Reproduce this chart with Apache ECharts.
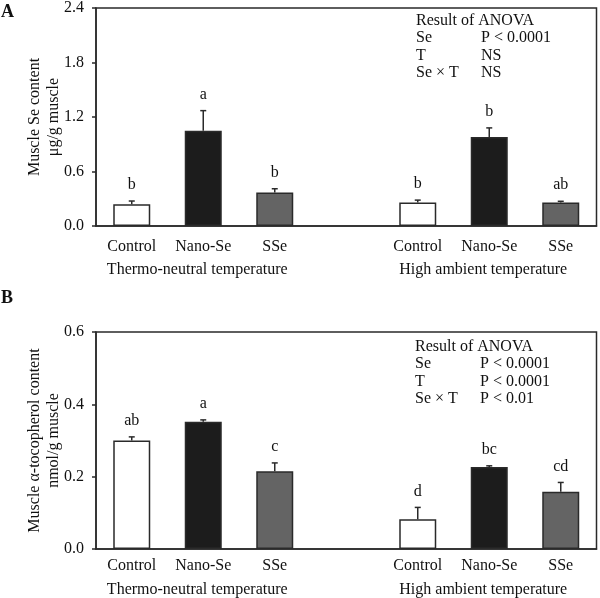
<!DOCTYPE html>
<html>
<head>
<meta charset="utf-8">
<script src="https://cdn.jsdelivr.net/npm/echarts@6/dist/echarts.min.js"></script>
<style>
  html, body { margin: 0; padding: 0; background: #fff; }
  #chart { width: 600px; height: 598px; }
</style>
</head>
<body>
<div id="chart"></div>
<script>
// categories (slot 3 is the empty gap between the two temperature groups)
const categories = ['Control', 'Nano-Se', 'SSe', '', 'Control', 'Nano-Se', 'SSe']
const groupLabels = ['', 'Thermo-neutral temperature', '', '', '', 'High ambient temperature', '']
const barColors = ['#ffffff', '#1c1c1c', '#646464', '#ffffff', '#ffffff', '#1c1c1c', '#646464']

// panel A: muscle Se content (μg/g muscle)
const seMeans = [0.24, 1.05, 0.37, null, 0.26, 0.98, 0.26]
const seErrors = [0.035, 0.22, 0.04, null, 0.025, 0.10, 0.012]
const seLetters = ['b', 'a', 'b', '', 'b', 'b', 'ab']
const seTicks = [0, 0.6, 1.2, 1.8, 2.4]
const seAnova = [['Se', 'P < 0.0001'], ['T', 'NS'], ['Se \u00d7 T', 'NS']]

// panel B: muscle α-tocopherol content (nmol/g muscle)
const tocMeans = [0.30, 0.352, 0.215, null, 0.082, 0.227, 0.158]
const tocErrors = [0.01, 0.005, 0.023, null, 0.033, 0.003, 0.026]
const tocLetters = ['ab', 'a', 'c', '', 'd', 'bc', 'cd']
const tocTicks = [0, 0.2, 0.4, 0.6]
const tocAnova = [['Se', 'P < 0.0001'], ['T', 'P < 0.0001'], ['Se \u00d7 T', 'P < 0.01']]

const FONT = '"Liberation Serif", "DejaVu Serif", serif'
const INK = '#2a2a2a'

function barData(means) {
  return means.map((v, i) => ({
    value: v,
    itemStyle: { color: barColors[i] }
  }))
}

function errData(means, errs, letters) {
  let out = []
  means.forEach((v, i) => {
    if (v != null) out.push([i, v, errs[i], letters[i]])
  })
  return out
}

const errSets = {
  1: errData(seMeans, seErrors, seLetters),
  3: errData(tocMeans, tocErrors, tocLetters)
}

// error bar (upper half only) + significance letter
function renderErr(params, api) {
  let base = api.coord([api.value(0), api.value(1)])
  let top = api.coord([api.value(0), api.value(1) + api.value(2)])
  let letter = errSets[params.seriesIndex][params.dataIndex][3]
  return {
    type: 'group',
    children: [
      { type: 'line', shape: { x1: base[0], y1: base[1], x2: top[0], y2: top[1] }, style: { stroke: INK, lineWidth: 1.5 } },
      { type: 'line', shape: { x1: top[0] - 3, y1: top[1], x2: top[0] + 3, y2: top[1] }, style: { stroke: INK, lineWidth: 1.5 } },
      { type: 'text', x: top[0], y: top[1] - 16, style: { text: letter, font: '16px ' + FONT, fill: '#111', align: 'center', verticalAlign: 'middle' } }
    ]
  }
}

function yAxis(gridIndex, ticks, name) {
  return {
    type: 'value',
    gridIndex: gridIndex,
    min: ticks[0],
    max: ticks[ticks.length - 1],
    interval: ticks[1] - ticks[0],
    name: name,
    nameLocation: 'middle',
    nameRotate: 90,
    nameGap: 33,
    nameMoveOverlap: false,
    nameTextStyle: { fontFamily: FONT, fontSize: 16, color: '#111', lineHeight: 19 },
    axisLine: { show: true, lineStyle: { color: INK, width: 1.5 } },
    axisTick: { show: true, length: 4, lineStyle: { color: INK, width: 1.5 } },
    axisLabel: { fontFamily: FONT, fontSize: 16, color: '#111', margin: 12, formatter: v => v.toFixed(1) },
    splitLine: { show: false }
  }
}

function xAxes(gridIndex, margin, groupMargin) {
  return [
    {
      type: 'category',
      gridIndex: gridIndex,
      data: categories,
      axisLine: { show: true, lineStyle: { color: INK, width: 1.5 } },
      axisTick: { show: false },
      axisLabel: { interval: 0, fontFamily: FONT, fontSize: 16, color: '#111', margin: margin }
    },
    {
      type: 'category',
      gridIndex: gridIndex,
      position: 'bottom',
      data: groupLabels,
      axisLine: { show: false },
      axisTick: { show: false },
      axisLabel: { interval: 0, fontFamily: FONT, fontSize: 16, color: '#111', margin: groupMargin, padding: [0, 12, 0, 0] }
    }
  ]
}

function anovaText(x, y, rows) {
  let lines = ['Result of ANOVA'].concat(rows.map(r => r[0]))
  let vals = [''].concat(rows.map(r => r[1]))
  return [
    { type: 'text', left: x, top: y, style: { text: lines.join('\n'), font: '16px ' + FONT, fill: '#111', lineHeight: 17.5 } },
    { type: 'text', left: x + 65, top: y, style: { text: vals.join('\n'), font: '16px ' + FONT, fill: '#111', lineHeight: 17.5 } }
  ]
}

let chart = echarts.init(document.getElementById('chart'))

let option = {
  backgroundColor: '#fff',
  animation: false,
  grid: [
    { left: 96, right: 3.5, top: 7, height: 219, show: true, borderColor: INK, borderWidth: 1.5 },
    { left: 96, right: 3.5, top: 332, height: 218, show: true, borderColor: INK, borderWidth: 1.5 }
  ],
  xAxis: xAxes(0, 13, 36).concat(xAxes(1, 9, 33)),
  yAxis: [
    yAxis(0, seTicks, 'Muscle Se content\n\u03bcg/g muscle'),
    yAxis(1, tocTicks, 'Muscle \u03b1-tocopherol content\nnmol/g muscle')
  ],
  graphic: [
    { type: 'text', left: 1, top: 3, style: { text: 'A', font: 'bold 18px ' + FONT, fill: '#111' } },
    { type: 'text', left: 1, top: 289, style: { text: 'B', font: 'bold 18px ' + FONT, fill: '#111' } }
  ].concat(anovaText(416, 12, seAnova), anovaText(415, 338, tocAnova)),
  series: [
    {
      type: 'bar',
      xAxisIndex: 0,
      yAxisIndex: 0,
      data: barData(seMeans),
      barWidth: 37,
      itemStyle: { borderColor: INK, borderWidth: 1.5 }
    },
    {
      type: 'custom',
      xAxisIndex: 0,
      yAxisIndex: 0,
      data: errSets[1],
      renderItem: renderErr,
      z: 5
    },
    {
      type: 'bar',
      xAxisIndex: 2,
      yAxisIndex: 1,
      data: barData(tocMeans),
      barWidth: 37,
      itemStyle: { borderColor: INK, borderWidth: 1.5 }
    },
    {
      type: 'custom',
      xAxisIndex: 2,
      yAxisIndex: 1,
      data: errSets[3],
      renderItem: renderErr,
      z: 5
    }
  ]
}

chart.setOption(option)
</script>
</body>
</html>
